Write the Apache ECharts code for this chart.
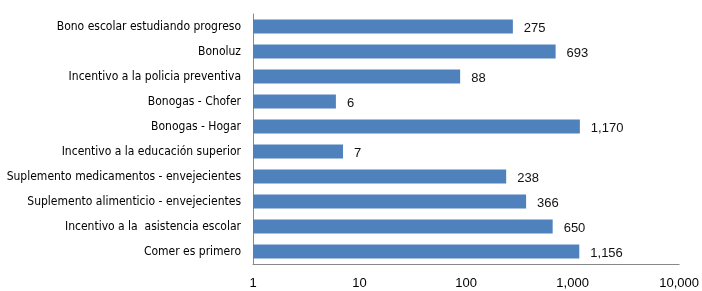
<!DOCTYPE html>
<html>
<head>
<meta charset="utf-8">
<script src="https://cdn.jsdelivr.net/npm/echarts@6/dist/echarts.min.js"></script>
<style>
  html, body { margin: 0; padding: 0; background: #fff; }
  #chart { width: 702px; height: 291px; }
</style>
</head>
<body>
<div id="chart"></div>
<script>
var categories = [
    'Bono escolar estudiando progreso',
    'Bonoluz',
    'Incentivo a la policia preventiva',
    'Bonogas - Chofer',
    'Bonogas - Hogar',
    'Incentivo a la educación superior',
    'Suplemento medicamentos - envejecientes',
    'Suplemento alimenticio - envejecientes',
    'Incentivo a la  asistencia escolar',
    'Comer es primero'
];
var values = [275, 693, 88, 6, 1170, 7, 238, 366, 650, 1156];
var axisMin = 1;
var axisMax = 10000;

function fmt(v) {
    return Math.round(v).toLocaleString('en-US');
}

var myChart = echarts.init(document.getElementById('chart'));
var option = {
    animation: false,
    grid: {
        left: 253,
        right: 17,
        top: 14,
        bottom: 27,
        containLabel: false
    },
    xAxis: {
        type: 'log',
        logBase: 10,
        min: axisMin,
        max: axisMax,
        axisLine: { show: true, lineStyle: { color: '#888888', width: 1 } },
        axisTick: { show: false },
        splitLine: { show: false },
        axisLabel: {
            color: '#000',
            fontFamily: 'Liberation Sans',
            fontSize: 13,
            margin: 13,
            formatter: fmt
        }
    },
    yAxis: {
        type: 'category',
        data: categories,
        inverse: true,
        axisLine: { show: true, lineStyle: { color: '#888888', width: 1 } },
        axisTick: { show: false },
        axisLabel: {
            color: '#000',
            fontFamily: '"DejaVu Sans Condensed", sans-serif',
            fontSize: 12,
            margin: 12
        }
    },
    series: [{
        type: 'bar',
        data: values,
        barCategoryGap: '44%',
        itemStyle: { color: '#4F81BD' },
        label: {
            show: true,
            position: 'right',
            distance: 11,
            offset: [0, 2],
            color: '#111',
            fontFamily: 'Liberation Sans',
            fontSize: 13,
            formatter: function (p) { return fmt(p.value); }
        }
    }]
};
myChart.setOption(option);
</script>
</body>
</html>
